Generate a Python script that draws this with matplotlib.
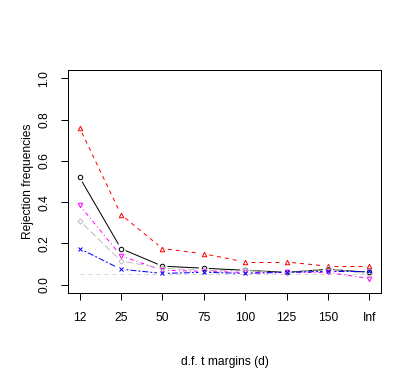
import numpy as np
import matplotlib
matplotlib.use("Agg")
import matplotlib.pyplot as plt

plt.rcParams['font.family'] = ['Liberation Sans', 'DejaVu Sans']

d_labels = ["12", "25", "50", "75", "100", "125", "150", "Inf"]

red_vals = [0.76, 0.34, 0.175, 0.15, 0.11, 0.11, 0.09, 0.09]
black_vals = [0.52, 0.175, 0.09, 0.08, 0.07, 0.06, 0.075, 0.06]
magenta_vals = [0.385, 0.14, 0.07, 0.065, 0.06, 0.06, 0.06, 0.03]
grey_vals = [0.31, 0.115, 0.08, 0.07, 0.07, 0.055, 0.08, 0.05]
blue_vals = [0.175, 0.075, 0.055, 0.06, 0.055, 0.06, 0.065, 0.065]
nominal = [0.05] * 8

series = [
    (red_vals, "#FF0000", (0, (4, 4)), "^"),
    (black_vals, "black", "solid", "o"),
    (magenta_vals, "#FF00FF", (0, (1, 3, 4, 3)), "v"),
    (grey_vals, "#BEBEBE", (0, (7, 3)), "D"),
    (blue_vals, "#0000FF", (0, (2, 2, 6, 2)), "x"),
]

dpi = 72
fig = plt.figure(figsize=(415 / dpi, 382 / dpi), dpi=dpi)
ax = fig.add_axes([68 / 415, 1 - 293 / 382, (381 - 68) / 415, (293 - 70) / 382])

x = np.arange(1, 9)
ax.set_xlim(0.72, 8.28)
ax.set_ylim(-0.04, 1.04)

# reference line at nominal level
ax.plot(x, nominal, color="#D3D3D3", lw=1, linestyle=(0, (4, 4)))


def gapped(vals, color, ls, gap=5.5):
    # R type="b": line segments stop short of the points
    pts = ax.transData.transform(np.column_stack([x, vals]))
    for p0, p1 in zip(pts[:-1], pts[1:]):
        v = p1 - p0
        L = np.hypot(*v)
        if L <= 2 * gap:
            continue
        u = v / L
        a = ax.transData.inverted().transform([p0 + u * gap, p1 - u * gap])
        ax.plot(a[:, 0], a[:, 1], color=color, lw=1, linestyle=ls)


for vals, col, ls, mk in series:
    gapped(vals, col, ls)
    ms = 3.8 if mk == "D" else 4.5
    ax.plot(x, vals, linestyle="none", marker=mk, color=col,
            markerfacecolor="none", markersize=ms, markeredgewidth=1)

ax.set_xticks(x)
ax.set_xticklabels(d_labels)
ax.set_yticks([0.0, 0.2, 0.4, 0.6, 0.8, 1.0])
ax.set_yticklabels(["0.0", "0.2", "0.4", "0.6", "0.8", "1.0"], rotation=90, va="center")
ax.tick_params(axis="both", direction="out", length=7, width=1, labelsize=12, color="black")
ax.tick_params(axis="x", pad=12)
ax.tick_params(axis="y", pad=10.5)
for s in ax.spines.values():
    s.set_linewidth(1)

ax.set_xlabel("d.f. t margins (d)", fontsize=12, labelpad=32)
ax.set_ylabel("Rejection frequencies", fontsize=12, labelpad=5)

fig.savefig("out.png", dpi=dpi)
